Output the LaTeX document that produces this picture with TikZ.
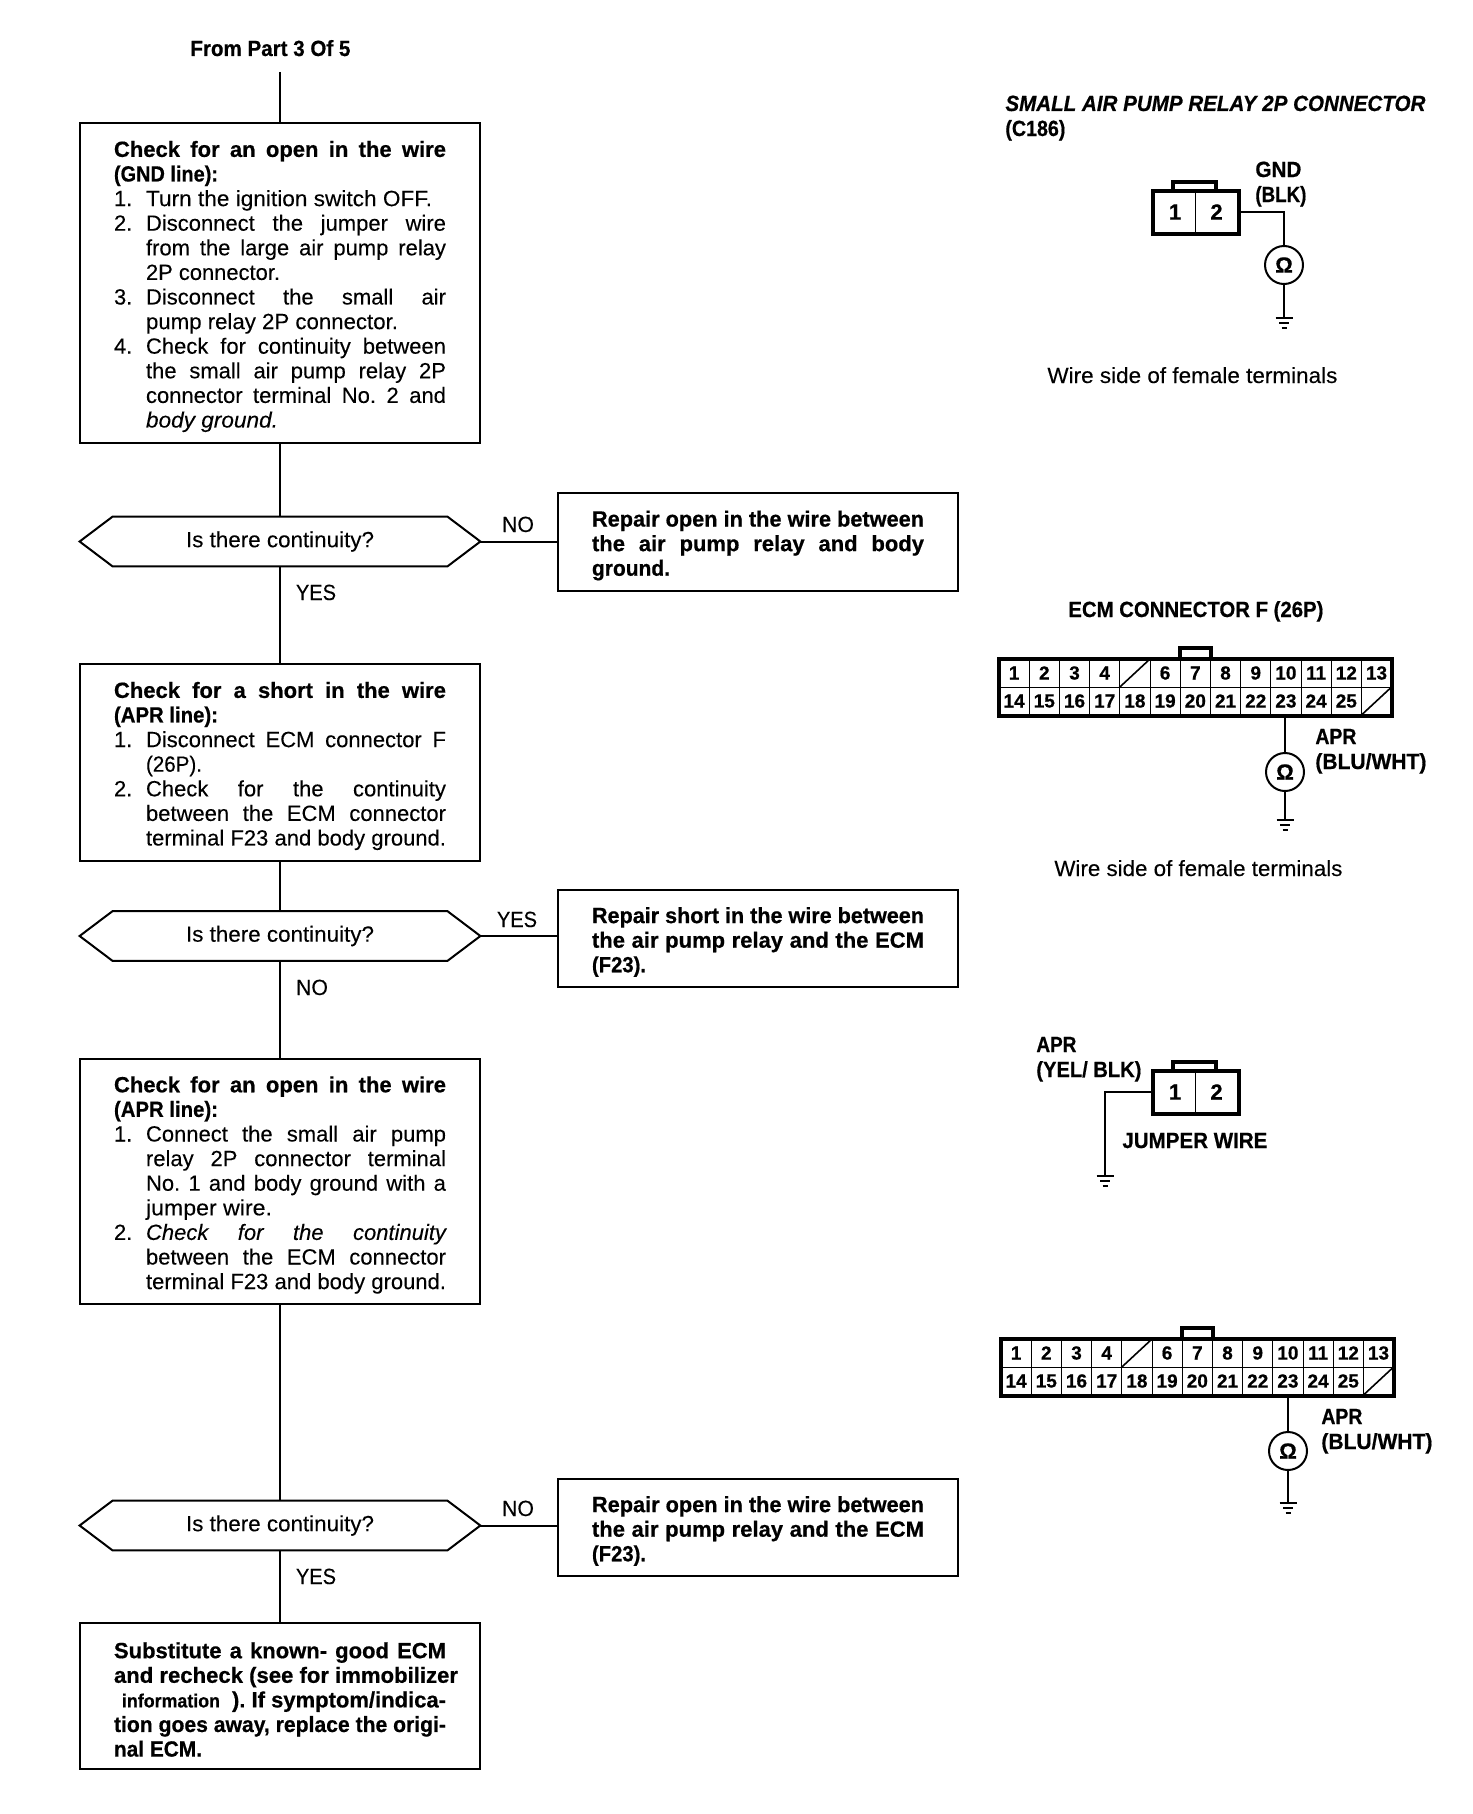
\documentclass[tikz,border=0pt]{standalone}
\usepackage{fontspec}
\usepackage{graphicx}
\setmainfont{Liberation Sans}[FakeBold=0.15,BoldFeatures={FakeBold=0.6},BoldItalicFeatures={FakeBold=0.6}]
\newsavebox\fitsbox
\newcommand\fitbox[2]{\sbox\fitsbox{#2}\ifdim\wd\fitsbox>#1\relax\resizebox{#1}{\height}{\usebox\fitsbox}\else\hbox to #1{#2}\fi}
\newcommand\FL[1]{\hbox to 166pt{\fitbox{166pt}{#1}}}
\newcommand\NL[2]{\hbox to 166pt{\hbox to 16pt{#1\hss}\fitbox{150pt}{#2}}}
\newcommand\SL[2]{\hbox to 166pt{\resizebox{#1pt}{\height}{#2}\hss}}
\newcommand\NS[3]{\hbox to 166pt{\hbox to 16pt{#1\hss}\resizebox{#2pt}{\height}{#3}\hss}}
\newcommand\WD[2]{\resizebox{#1pt}{\height}{#2}}
\newcommand\stack[1]{\vbox{\frenchspacing\baselineskip=12.3pt\lineskip=0pt\lineskiplimit=-20pt\vskip 3.5pt #1}}
\tikzset{
  x=0.5pt,y=-0.5pt,
  every node/.style={font=\fontsize{11}{12.3}\selectfont},
  boxn/.style={draw,line width=1pt,inner sep=0pt,minimum width=200pt},
  hexn/.style={inner sep=0pt,minimum width=200pt,minimum height=24.5pt},
  hexline/.style={line width=1pt,line join=miter},
  flow/.style={line width=1pt},
  wire/.style={line width=1pt},
  thinwire/.style={line width=.8pt},
  outer/.style={line width=2pt},
  cellp/.style={draw,line width=.5pt,inner sep=0pt,font=\fontsize{9.5}{10}\selectfont\bfseries},
  ohm/.style={draw,circle,line width=1pt,inner sep=0pt,minimum size=19pt,font=\fontsize{11}{11}\selectfont\bfseries},
  lab/.style={inner sep=0pt,anchor=base west},
  blab/.style={lab,font=\fontsize{11}{12.3}\selectfont\bfseries},
  clab/.style={inner sep=0pt,anchor=base},
}
\newcommand\gbars[1]{\draw[wire] (#1) +(-8.5,0) -- +(8.5,0) +(-5,5) -- +(5,5) +(-2.5,10) -- +(2.5,10);}
\newcommand\hexq[2]{%
\node[hexn] (#1) at (#2) {\raisebox{-1.2pt}{\WD{94}{Is there continuity?}}};
\draw[hexline] (#1.west) -- ([xshift=16.5pt]#1.north west) -- ([xshift=-16.5pt]#1.north east) -- (#1.east) -- ([xshift=-16.5pt]#1.south east) -- ([xshift=16.5pt]#1.south west) -- cycle;}
\newcommand\ecmconn[3]{%
\begin{scope}[shift={(#2,#3)}]
 \foreach \c/\t in {0/1,1/2,2/3,3/4,4/,5/6,6/7,7/8,8/9,9/10,10/11,11/12,12/13}
   \node[cellp,minimum width=15.1pt,minimum height=14pt] (#1-a\c) at ({30.2*\c+15.1},14) {\raisebox{-.5pt}{\t}};
 \foreach \c/\t in {0/14,1/15,2/16,3/17,4/18,5/19,6/20,7/21,8/22,9/23,10/24,11/25,12/}
   \node[cellp,minimum width=15.1pt,minimum height=14pt] (#1-b\c) at ({30.2*\c+15.1},42) {\t};
 \draw[thinwire] (#1-a4.south west) -- (#1-a4.north east);
 \draw[thinwire] (#1-b12.south west) -- (#1-b12.north east);
 \draw[outer] (#1-a0.north west) rectangle (#1-b12.south east);
 \draw[outer] (#1-a6.north west) -- ++(0,-11) -| (#1-a6.north east);
\end{scope}}
\newcommand\twopconn[3]{%
\begin{scope}[shift={(#2,#3)}]
 \node[cellp,minimum width=21pt,minimum height=21pt] (#1-1) at (21,21) {\fontsize{11}{11}\selectfont\hspace{1pt}1};
 \node[cellp,minimum width=21.5pt,minimum height=21pt] (#1-2) at (63.5,21) {\fontsize{11}{11}\selectfont 2\hspace{1pt}};
 \draw[outer] (#1-1.north west) rectangle (#1-2.south east);
 \draw[outer] (20,0) -- (20,-9) -- (63,-9) -- (63,0);
\end{scope}}
\begin{document}
\begin{tikzpicture}
\useasboundingbox[fill=white] (0,0) rectangle (1472,1814);
% flow chart
\node[blab] (from) at (190,56) {\WD{80}{From Part 3 Of 5}};
\coordinate (st) at (280,72);
\node[boxn,minimum height=160.2pt] (b1) at (280,283) {\stack{%
 \FL{\bfseries Check for an open in the wire}
 \SL{52}{\bfseries (GND line):}
 \NS{1.}{143}{Turn the ignition switch OFF.}
 \NL{2.}{Disconnect the jumper wire}
 \NL{}{from the large air pump relay}
 \NS{}{67}{2P connector.}
 \NL{3.}{Disconnect the small air}
 \NS{}{126}{pump relay 2P connector.}
 \NL{4.}{Check for continuity between}
 \NL{}{the small air pump relay 2P}
 \NL{}{connector terminal No. 2 and}
 \NS{}{66}{\itshape body ground.}}};
\hexq{h1}{280,541.5}
\node[boxn,minimum height=49pt] (r1) at (758,542) {\stack{\bfseries
 \FL{Repair open in the wire between}
 \FL{the air pump relay and body}
 \SL{39}{ground.}}};
\node[clab] (n1) at (518,532) {\WD{16}{NO}};
\node[clab] (y1) at (316,600) {\WD{20}{YES}};
\node[boxn,minimum height=98.5pt] (b2) at (280,762.5) {\stack{%
 \FL{\bfseries Check for a short in the wire}
 \SL{52}{\bfseries (APR line):}
 \NL{1.}{Disconnect ECM connector F}
 \NS{}{28}{(26P).}
 \NL{2.}{Check for the continuity}
 \NL{}{between the ECM connector}
 \NL{}{terminal F23 and body ground.}}};
\hexq{h2}{280,936}
\node[boxn,minimum height=48.5pt] (r2) at (758,938.5) {\stack{\bfseries
 \FL{Repair short in the wire between}
 \FL{the air pump relay and the ECM}
 \SL{27}{(F23).}}};
\node[clab] (y2) at (517,927) {\WD{20}{YES}};
\node[clab] (n2) at (312,995) {\WD{16}{NO}};
\node[boxn,minimum height=122.5pt] (b3) at (280,1181.5) {\stack{%
 \FL{\bfseries Check for an open in the wire}
 \SL{52}{\bfseries (APR line):}
 \NL{1.}{Connect the small air pump}
 \NL{}{relay 2P connector terminal}
 \NL{}{No. 1 and body ground with a}
 \NS{}{63}{jumper wire.}
 \NL{2.}{\itshape Check for the continuity}
 \NL{}{between the ECM connector}
 \NL{}{terminal F23 and body ground.}}};
\hexq{h3}{280,1525.5}
\node[boxn,minimum height=48.5pt] (r3) at (758,1527.5) {\stack{\bfseries
 \FL{Repair open in the wire between}
 \FL{the air pump relay and the ECM}
 \SL{27}{(F23).}}};
\node[clab] (n3) at (518,1516) {\WD{16}{NO}};
\node[clab] (y3) at (316,1584) {\WD{20}{YES}};
\node[boxn,minimum height=73pt] (b4) at (280,1696) {\stack{\bfseries
 \FL{Substitute a known- good ECM}
 \SL{172}{and recheck (see for immobilizer}
 \hbox to 166pt{\hskip 4pt\resizebox{49pt}{\height}{\fontsize{9.5}{11}\selectfont information}\hskip 6pt\resizebox{107pt}{\height}{). If symptom/indica-}\hss}
 \FL{tion goes away, replace the origi-}
 \SL{44}{nal ECM.}}};
\draw[flow] (st) -- (b1.north);
\draw[flow] (b1.south) -- (h1.north);
\draw[flow] (h1.south) -- (b2.north);
\draw[flow] (b2.south) -- (h2.north);
\draw[flow] (h2.south) -- (b3.north);
\draw[flow] (b3.south) -- (h3.north);
\draw[flow] (h3.south) -- (b4.north);
\draw[flow] (h1.east) -- (r1.west |- h1.east);
\draw[flow] (h2.east) -- (r2.west |- h2.east);
\draw[flow] (h3.east) -- (r3.west |- h3.east);
% small air pump relay connector
\node[lab,font=\fontsize{11}{12.3}\selectfont\bfseries\itshape] (t1) at (1005,111) {\WD{210}{SMALL AIR PUMP RELAY 2P CONNECTOR}};
\node[blab] (t1b) at (1005,136) {\WD{30}{(C186)}};
\twopconn{pa}{1153}{191}
\node[blab] (gnd) at (1255,177) {\WD{23}{GND}};
\node[blab] (blk) at (1255,202) {\WD{25.5}{(BLK)}};
\node[ohm] (o1) at (1284,265) {Ω};
\coordinate (g1) at (1284,318);
\draw[wire] (pa-2.east) -| (o1.north);
\draw[wire] (o1.south) -- (g1);
\gbars{g1}
\node[lab] (ws1) at (1047,383) {\WD{145}{Wire side of female terminals}};
% ECM connector
\node[blab] (t2) at (1068,617) {\WD{127.5}{ECM CONNECTOR F (26P)}};
\ecmconn{ea}{999}{659}
\node[ohm] (o2) at (1285,772) {Ω};
\coordinate (g2) at (1285,820);
\draw[wire] (o2.north) -- (ea-b9.south -| o2.north);
\draw[wire] (o2.south) -- (g2);
\gbars{g2}
\node[blab] (ap2) at (1315,744) {\WD{20.5}{APR}};
\node[blab] (bw2) at (1315,769) {\WD{55.5}{(BLU/WHT)}};
\node[lab] (ws2) at (1054,876) {\WD{144}{Wire side of female terminals}};
% jumper
\node[blab] (ap3) at (1036,1052) {\WD{20}{APR}};
\node[blab] (yb3) at (1036,1077) {\WD{52.5}{(YEL/ BLK)}};
\twopconn{pb}{1153}{1071}
\coordinate (g3) at (1105,1176);
\draw[thinwire] (pb-1.west) -| (g3);
\gbars{g3}
\node[blab] (jw) at (1122,1148) {\WD{72.5}{JUMPER WIRE}};
% second ECM connector
\ecmconn{eb}{1001}{1339}
\node[ohm] (o4) at (1288,1451) {Ω};
\coordinate (g4) at (1288,1503);
\draw[wire] (o4.north) -- (eb-b9.south -| o4.north);
\draw[wire] (o4.south) -- (g4);
\gbars{g4}
\node[blab] (ap4) at (1321,1424) {\WD{20.5}{APR}};
\node[blab] (bw4) at (1321,1449) {\WD{55.5}{(BLU/WHT)}};
\end{tikzpicture}
\end{document}
